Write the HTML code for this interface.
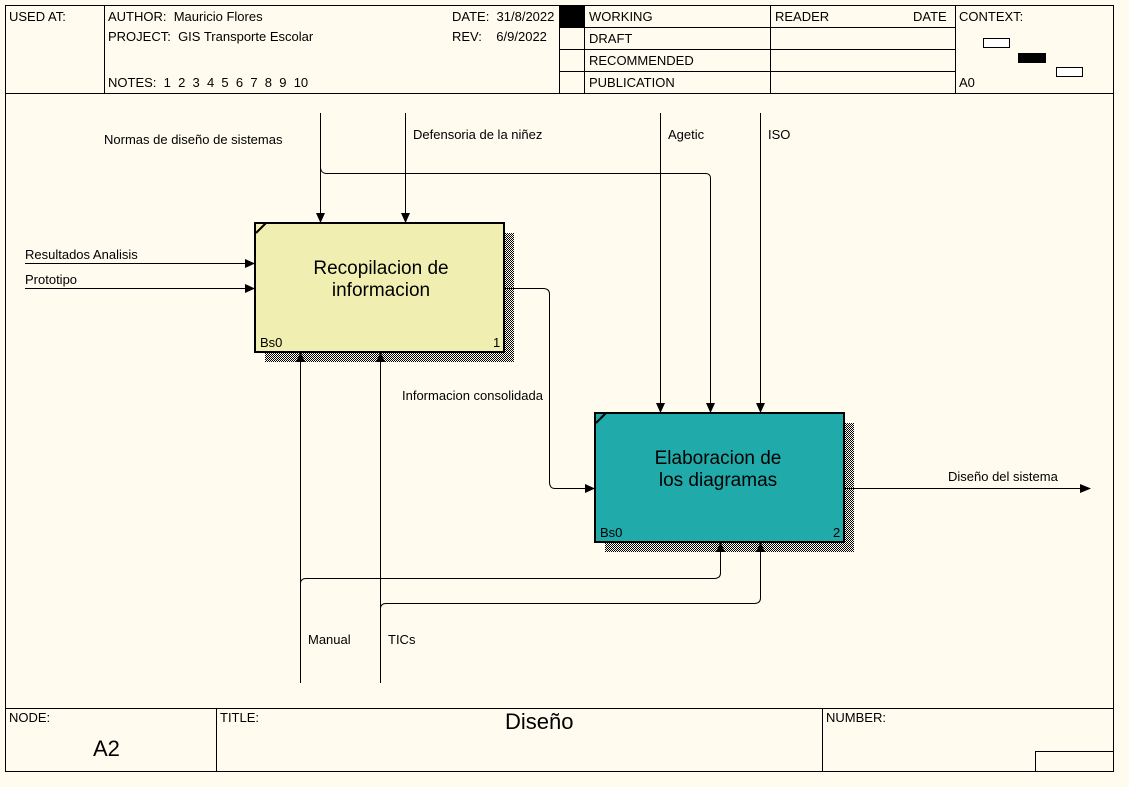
<!DOCTYPE html>
<html><head><meta charset="utf-8"><style>
html,body{margin:0;padding:0;background:#fffbef;}
svg{display:block}
text{font-family:"Liberation Sans",Arial,sans-serif;fill:#000}
</style></head><body>
<svg width="1129" height="787" viewBox="0 0 1129 787" xmlns="http://www.w3.org/2000/svg">
<defs>
<pattern id="dots" width="2" height="2" patternUnits="userSpaceOnUse">
<rect width="2" height="2" fill="#fffbef" shape-rendering="crispEdges"/><rect width="1" height="1" fill="#000" shape-rendering="crispEdges"/><rect x="1" y="1" width="1" height="1" fill="#000" shape-rendering="crispEdges"/>
</pattern>
</defs>
<rect width="1129" height="787" fill="#fffbef"/>
<rect x="5.5" y="5.5" width="1108" height="766" fill="none" stroke="#000" stroke-width="1"/>
<line x1="5" y1="93.5" x2="1113" y2="93.5" stroke="#000"/>
<line x1="5" y1="708.5" x2="1113" y2="708.5" stroke="#000"/>
<g stroke="#000" stroke-width="1">
<line x1="104.5" y1="5" x2="104.5" y2="93"/>
<line x1="559.5" y1="5" x2="559.5" y2="93"/>
<line x1="584.5" y1="5" x2="584.5" y2="93"/>
<line x1="770.5" y1="5" x2="770.5" y2="93"/>
<line x1="955.5" y1="5" x2="955.5" y2="93"/>
<line x1="559" y1="27.5" x2="955" y2="27.5"/>
<line x1="559" y1="49.5" x2="955" y2="49.5"/>
<line x1="559" y1="71.5" x2="955" y2="71.5"/>
<line x1="216.5" y1="708" x2="216.5" y2="771"/>
<line x1="822.5" y1="708" x2="822.5" y2="771"/>
<polyline points="1035.5,771 1035.5,751.5 1113,751.5" fill="none"/>
</g>
<rect x="560" y="6" width="24" height="21" fill="#000"/>
<rect x="983.5" y="38.5" width="26" height="9" fill="#fff" stroke="#000"/>
<rect x="1018" y="53" width="28" height="10" fill="#000"/>
<rect x="1056.5" y="67.5" width="26" height="9" fill="#fff" stroke="#000"/>
<g font-size="13">
<text x="9" y="21">USED AT:</text>
<text x="108" y="21" xml:space="preserve">AUTHOR:  Mauricio Flores</text>
<text x="108" y="41" xml:space="preserve">PROJECT:  GIS Transporte Escolar</text>
<text x="108" y="87" xml:space="preserve">NOTES:  1  2  3  4  5  6  7  8  9  10</text>
<text x="452" y="21" xml:space="preserve">DATE:  31/8/2022</text>
<text x="452" y="41" xml:space="preserve">REV:    6/9/2022</text>
<text x="589" y="21">WORKING</text>
<text x="589" y="43">DRAFT</text>
<text x="589" y="65">RECOMMENDED</text>
<text x="589" y="87">PUBLICATION</text>
<text x="775" y="21">READER</text>
<text x="913" y="21">DATE</text>
<text x="959" y="21">CONTEXT:</text>
<text x="959" y="87">A0</text>
<text x="9" y="722">NODE:</text>
<text x="220" y="722">TITLE:</text>
<text x="826" y="722">NUMBER:</text>
</g>
<text x="93" y="756" font-size="22">A2</text>
<text x="505" y="729" font-size="22">Diseño</text>

<rect x="265" y="233" width="249" height="129" fill="url(#dots)"/>
<rect x="605" y="423" width="249" height="129" fill="url(#dots)"/>
<rect x="255" y="223" width="249" height="129" fill="#f0eeb0" stroke="#000" stroke-width="2"/>
<rect x="595" y="413" width="249" height="129" fill="#20aaaa" stroke="#000" stroke-width="2"/>
<line x1="256" y1="233" x2="266" y2="223" stroke="#000" stroke-width="2"/>
<line x1="596" y1="423" x2="606" y2="413" stroke="#000" stroke-width="2"/>
<g font-size="19" text-anchor="middle">
<text x="381" y="274">Recopilacion de</text>
<text x="381" y="296">informacion</text>
<text x="718" y="464">Elaboracion de</text>
<text x="718" y="486">los diagramas</text>
</g>
<g font-size="13">
<text x="260" y="347">Bs0</text><text x="493" y="347">1</text>
<text x="600" y="537">Bs0</text><text x="833" y="537">2</text>
</g>

<g stroke="#000" stroke-width="1" fill="none">
<line x1="320.5" y1="113" x2="320.5" y2="215"/>
<path d="M320.5,168 Q321,173 326,173.5 L706,173.5 Q710.5,174 710.5,178 L710.5,405"/>
<line x1="405.5" y1="113" x2="405.5" y2="215"/>
<line x1="660.5" y1="113" x2="660.5" y2="405"/>
<line x1="760.5" y1="113" x2="760.5" y2="405"/>
<line x1="25" y1="263.5" x2="247" y2="263.5"/>
<line x1="25" y1="288.5" x2="247" y2="288.5"/>
<path d="M504,288.5 L544,288.5 Q549.5,289 549.5,294 L549.5,483 Q550,488.5 555,488.5 L587,488.5"/>
<line x1="844" y1="488.5" x2="1082" y2="488.5"/>
<line x1="300.5" y1="683" x2="300.5" y2="360"/>
<path d="M300.5,583 Q301,578.5 306,578.5 L715,578.5 Q720.5,578 720.5,573 L720.5,550"/>
<line x1="380.5" y1="683" x2="380.5" y2="360"/>
<path d="M380.5,608 Q381,603.5 386,603.5 L755,603.5 Q760.5,603 760.5,598 L760.5,550"/>
</g>
<g fill="#000">
<polygon points="316,213 325,213 320.5,223"/>
<polygon points="401,213 410,213 405.5,223"/>
<polygon points="656,403 665,403 660.5,413"/>
<polygon points="706,403 715,403 710.5,413"/>
<polygon points="756,403 765,403 760.5,413"/>
<polygon points="245,259 255,263.5 245,268"/>
<polygon points="245,284 255,288.5 245,293"/>
<polygon points="585,484 595,488.5 585,493"/>
<polygon points="1080,484 1091,488.5 1080,493"/>
<polygon points="296,362 305,362 300.5,352"/>
<polygon points="376,362 385,362 380.5,352"/>
<polygon points="716,552 725,552 720.5,542"/>
<polygon points="756,552 765,552 760.5,542"/>
</g>
<g font-size="13">
<text x="104" y="144">Normas de diseño de sistemas</text>
<text x="413" y="139">Defensoria de la niñez</text>
<text x="668" y="139">Agetic</text>
<text x="768" y="139">ISO</text>
<text x="25" y="259">Resultados Analisis</text>
<text x="25" y="284">Prototipo</text>
<text x="402" y="400">Informacion consolidada</text>
<text x="948" y="481">Diseño del sistema</text>
<text x="308" y="644">Manual</text>
<text x="388" y="644">TICs</text>
</g>
</svg>
</body></html>
